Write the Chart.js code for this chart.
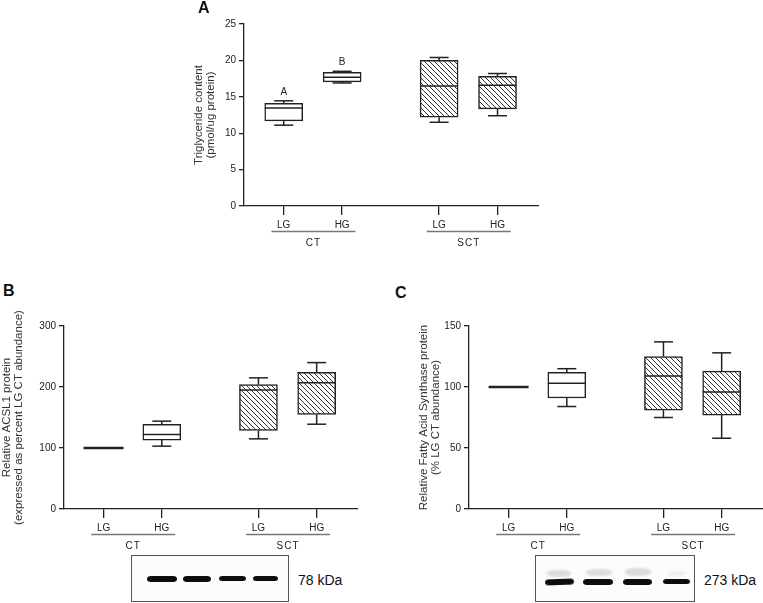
<!DOCTYPE html>
<html>
<head>
<meta charset="utf-8">
<script src="https://cdn.jsdelivr.net/npm/chart.js@4/dist/chart.umd.min.js"></script>
<style>
  html, body { margin: 0; padding: 0; background: #fff; }
  body { width: 763px; height: 603px; position: relative; overflow: hidden; font-family: "Liberation Sans", Arial, sans-serif; }
  canvas { position: absolute; }
  .plabel { position: absolute; font-weight: bold; font-size: 16px; line-height: 16px; color: #111; }
  .kda { position: absolute; font-size: 14px; line-height: 14px; color: #111; }
  .blot { position: absolute; box-sizing: border-box; border: 1.5px solid #555; background: #fcfcfc; z-index: 2; }
  .band { position: absolute; background: #0d0d0d; border-radius: 4px / 3px; filter: blur(0.5px); }
  .faint { position: absolute; background: rgba(0,0,0,0.13); border-radius: 40%; filter: blur(1.2px); }
</style>
</head>
<body>
<canvas id="cA" width="346" height="256" style="left:193px;top:0px;"></canvas>
<canvas id="cB" width="357" height="259" style="left:1px;top:300px;"></canvas>
<canvas id="cC" width="345" height="259" style="left:418px;top:300px;"></canvas>

<div class="plabel" style="left:198px;top:0px;">A</div>
<div class="plabel" style="left:3px;top:283px;">B</div>
<div class="plabel" style="left:395px;top:285px;">C</div>

<div class="blot" style="left:131px;top:555px;width:158px;height:47px;">
  <div class="band" style="left:15px;top:19.5px;width:30px;height:6px;"></div>
  <div class="band" style="left:51px;top:19.5px;width:28px;height:6px;"></div>
  <div class="band" style="left:87px;top:20px;width:27px;height:5px;"></div>
  <div class="band" style="left:121px;top:20px;width:25px;height:5px;"></div>
</div>
<div class="kda" style="left:298px;top:573px;">78 kDa</div>

<div class="blot" style="left:535px;top:555px;width:160px;height:47px;">
  <div class="faint" style="left:11px;top:14px;width:24px;height:7px;"></div>
  <div class="faint" style="left:50px;top:13px;width:26px;height:7px;"></div>
  <div class="faint" style="left:89px;top:12px;width:26px;height:8px;"></div>
  <div class="faint" style="left:132px;top:15px;width:18px;height:5px;opacity:0.4;"></div>
  <div class="band" style="left:9px;top:23px;width:29px;height:6px;transform:rotate(-2deg);"></div>
  <div class="band" style="left:47px;top:22.5px;width:30px;height:6px;"></div>
  <div class="band" style="left:87px;top:22.5px;width:29px;height:6px;"></div>
  <div class="band" style="left:127px;top:23px;width:27px;height:5px;"></div>
</div>
<div class="kda" style="left:704px;top:573px;">273 kDa</div>

<script>
// ---------------- DATA ----------------
const tickLabels = ['LG', 'HG', 'LG', 'HG'];
const groupLabels = ['CT', 'SCT'];
const hatched = [false, false, true, true];

// Panel A: Triglyceride content (pmol/ug protein)
const tgMin    = [11.1, 16.9, 11.5, 12.4];
const tgQ1     = [11.7, 17.05, 12.2, 13.35];
const tgMedian = [13.45, 17.7, 16.5, 16.6];
const tgQ3     = [14.1, 18.35, 20.0, 17.8];
const tgMax    = [14.45, 18.5, 20.4, 18.2];
const tgLetters = ['A', 'B', '', ''];

// Panel B: Relative ACSL1 protein (% LG CT)
const acslMin    = [100, 103, 115, 139];
const acslQ1     = [100, 113, 129, 155];
const acslMedian = [100, 122, 195, 207];
const acslQ3     = [100, 139, 204, 224];
const acslMax    = [100, 144, 215, 240];

// Panel C: Relative Fatty Acid Synthase protein (% LG CT)
const fasMin    = [100, 84, 75, 58];
const fasQ1     = [100, 91, 81, 77];
const fasMedian = [100, 103, 109, 96];
const fasQ3     = [100, 112, 125, 113];
const fasMax    = [100, 115, 137, 128];

// ---------------- LAYOUT (not data) ----------------
const X_POS = [1, 2, 3.66, 4.66];
const X_MIN = 0.32, X_MAX = 5.37;
const FONT = "'Liberation Sans', Arial, sans-serif";
const INK = '#222';

function makeHatch() {
  const s = 5;
  const c = document.createElement('canvas');
  c.width = s; c.height = s;
  const g = c.getContext('2d');
  g.fillStyle = '#fff'; g.fillRect(0, 0, s, s);
  g.strokeStyle = '#333'; g.lineWidth = 1;
  g.beginPath();
  g.moveTo(0, 0); g.lineTo(s, s);
  g.moveTo(-1, s - 1); g.lineTo(1, s + 1);
  g.moveTo(s - 1, -1); g.lineTo(s + 1, 1);
  g.stroke();
  return g.createPattern(c, 'repeat');
}
const hatch = makeHatch();

const boxPlugin = {
  id: 'boxPlot',
  afterDatasetsDraw(chart, args, o) {
    const { ctx, scales: { x, y } } = chart;
    const line = (x1, y1, x2, y2) => { ctx.beginPath(); ctx.moveTo(x1, y1); ctx.lineTo(x2, y2); ctx.stroke(); };
    ctx.save();
    ctx.strokeStyle = INK; ctx.lineWidth = 1.5; ctx.lineCap = 'butt';
    X_POS.forEach((xv, i) => {
      const px = x.getPixelForValue(xv);
      const yMin = y.getPixelForValue(o.min[i]);
      const yQ1 = y.getPixelForValue(o.q1[i]);
      const yMed = y.getPixelForValue(o.median[i]);
      const yQ3 = y.getPixelForValue(o.q3[i]);
      const yMax = y.getPixelForValue(o.max[i]);
      if (o.q1[i] === o.q3[i] && o.min[i] === o.max[i]) {
        ctx.lineWidth = 2.6;
        line(px - 20, yMed, px + 20, yMed);
        ctx.lineWidth = 1.5;
        return;
      }
      line(px, yQ3, px, yMax); line(px - 9.5, yMax, px + 9.5, yMax);
      line(px, yQ1, px, yMin); line(px - 9.5, yMin, px + 9.5, yMin);
      line(px - 19, yMed, px + 19, yMed);
      if (o.letters && o.letters[i]) {
        ctx.fillStyle = INK; ctx.font = '10px ' + FONT;
        ctx.textAlign = 'center'; ctx.textBaseline = 'middle';
        ctx.fillText(o.letters[i], px, yMax - 9);
      }
    });
    ctx.restore();
  },
  afterDraw(chart) {
    const { ctx, scales: { x } } = chart;
    const b = chart.chartArea.bottom;
    ctx.save();
    groupLabels.forEach((g, gi) => {
      const a = x.getPixelForValue(X_POS[2 * gi]);
      const c = x.getPixelForValue(X_POS[2 * gi + 1]);
      const cx = (a + c) / 2 + 0.5;
      ctx.strokeStyle = '#777'; ctx.lineWidth = 1.4;
      ctx.beginPath(); ctx.moveTo(cx - 42, b + 25.5); ctx.lineTo(cx + 42, b + 25.5); ctx.stroke();
      ctx.fillStyle = INK; ctx.font = '10px ' + FONT;
      ctx.textAlign = 'center'; ctx.textBaseline = 'middle';
      try { ctx.letterSpacing = '1px'; } catch (e) {}
      ctx.fillText(g, cx, b + 37);
    });
    ctx.restore();
  }
};

function makePanel(id, d, cfg) {
  const ctx = document.getElementById(id).getContext('2d');
  return new Chart(ctx, {
    type: 'bar',
    data: {
      datasets: [{
        data: X_POS.map((xv, i) => (d.q1[i] === d.q3[i]) ? { x: xv, y: null } : { x: xv, y: [d.q1[i], d.q3[i]] }),
        backgroundColor: c => hatched[c.dataIndex] ? hatch : '#fff',
        borderColor: INK,
        borderWidth: 1.5,
        borderSkipped: false,
        barThickness: 38
      }]
    },
    options: {
      responsive: false,
      animation: false,
      devicePixelRatio: 1,
      layout: { padding: { top: cfg.padTop, left: 0, right: 0, bottom: 0 } },
      plugins: {
        legend: { display: false },
        tooltip: { enabled: false },
        boxPlot: d
      },
      scales: {
        x: {
          type: 'linear', min: X_MIN, max: X_MAX, offset: false,
          grid: { display: true, offset: false, drawOnChartArea: false, drawTicks: true, tickLength: 9, color: INK, lineWidth: 1.3 },
          border: { display: true, color: INK, width: 1.3 },
          ticks: { autoSkip: false, maxRotation: 0, minRotation: 0, padding: 4, color: INK, font: { size: 10, family: FONT },
                   callback: (v, i) => tickLabels[i] },
          afterBuildTicks: s => { s.ticks = X_POS.map(v => ({ value: v })); },
          afterFit: s => { s.height = 50; }
        },
        y: {
          type: 'linear', min: cfg.yMin, max: cfg.yMax,
          grid: { display: true, drawOnChartArea: false, drawTicks: true, tickLength: 5, color: INK, lineWidth: 1.3 },
          border: { display: true, color: INK, width: 1.3 },
          ticks: { stepSize: cfg.step, padding: 3, color: INK, font: { size: 10, family: FONT } },
          title: { display: true, text: cfg.title, color: '#333', font: { size: 11.5, family: FONT, lineHeight: '12px' }, padding: { top: 0, bottom: 0 } },
          afterFit: s => { s.width = cfg.yWidth; }
        }
      }
    },
    plugins: [boxPlugin]
  });
}

makePanel('cA',
  { min: tgMin, q1: tgQ1, median: tgMedian, q3: tgQ3, max: tgMax, letters: tgLetters },
  { padTop: 24, yMin: 0, yMax: 25, step: 5, yWidth: 51, title: ['Triglyceride content', '(pmol/ug protein)'] });

makePanel('cB',
  { min: acslMin, q1: acslQ1, median: acslMedian, q3: acslQ3, max: acslMax },
  { padTop: 26, yMin: 0, yMax: 300, step: 100, yWidth: 63, title: ['Relative ACSL1 protein', '(expressed as percent LG CT abundance)'] });

makePanel('cC',
  { min: fasMin, q1: fasQ1, median: fasMedian, q3: fasQ3, max: fasMax },
  { padTop: 26, yMin: 0, yMax: 150, step: 50, yWidth: 51, title: ['Relative Fatty Acid Synthase protein', '(% LG CT abundance)'] });
</script>
</body>
</html>
